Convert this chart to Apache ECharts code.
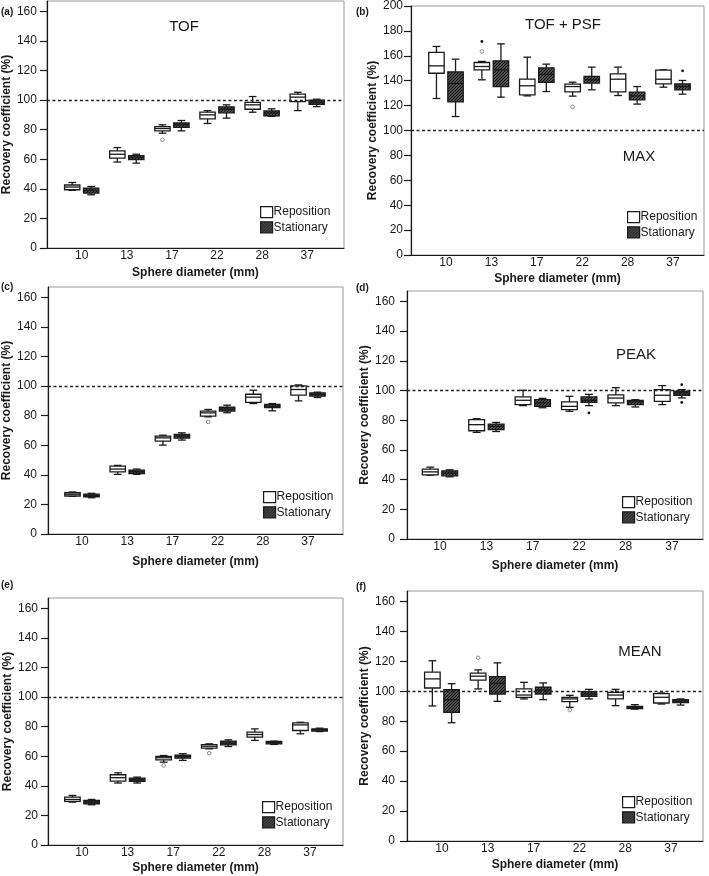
<!DOCTYPE html>
<html><head><meta charset="utf-8">
<script src="https://cdn.jsdelivr.net/npm/echarts@6/dist/echarts.min.js"></script>
<style>html,body{margin:0;padding:0;background:#fff}#chart{width:709px;height:876px}</style>
</head><body><div id="chart"></div>
<script>
// ---------- data ----------
const categories = ['10', '13', '17', '22', '28', '37'];
const yTicks = [0, 20, 40, 60, 80, 100, 120, 140, 160];
const yTicksB = [0, 20, 40, 60, 80, 100, 120, 140, 160, 180, 200];
const referenceLine = 100;

// each row: [min, Q1, median, Q3, max]
const tofRep = [[39.0,39.4,41.2,42.6,44.3],[58.1,60.8,63.4,65.7,67.9],[77.6,79.2,80.8,82.1,83.3],[84.2,87.3,90.0,91.8,92.9],[91.8,93.8,96.8,98.4,102.4],[92.9,99.0,102.0,104.0,105.3]];
const tofSta = [[36.0,37.1,38.9,40.5,41.6],[57.4,59.8,61.2,62.5,63.4],[79.2,81.5,83.3,84.6,86.2],[87.8,91.4,93.8,95.4,96.8],[89.0,89.4,91.2,92.7,94.1],[95.6,97.2,98.6,99.9,100.6]];
const tofRepOut = [[2, 73.2, 0]];
const tofStaOut = [];

const maxRep = [[125.7,146.0,151.9,162.7,167.5],[140.7,148.7,151.4,154.6,155.5],[127.8,128.6,135.9,141.2,158.9],[127.6,131.1,135.3,137.2,138.8],[128.1,131.1,141.2,145.5,150.9],[134.8,137.5,141.2,148.5,148.7]];
const maxSta = [[111.2,123.0,137.8,147.1,157.3],[126.8,135.3,148.7,156.0,169.6],[131.3,138.6,145.2,150.3,153.3],[132.7,138.0,140.7,143.4,150.9],[121.2,124.6,127.8,130.8,135.3],[129.2,132.7,135.3,137.5,140.2]];
const maxRepOut = [[1, 163.5, 0], [1, 171.5, 1], [3, 119.0, 0]];
const maxStaOut = [[5, 147.9, 1]];

const cRep = [[25.5,25.7,26.9,27.9,28.4],[40.3,42.0,43.9,45.9,46.4],[60.1,62.8,65.0,66.2,66.8],[79.2,79.7,81.9,83.1,84.2],[88.2,89.0,92.5,94.5,97.2],[90.0,93.9,97.7,100.2,100.8]];
const cSta = [[24.5,25.2,26.1,27.0,27.5],[40.3,40.9,42.1,43.2,43.9],[63.5,64.8,66.2,67.3,68.4],[82.0,83.1,84.4,85.7,87.1],[83.3,85.5,86.4,87.6,88.2],[92.3,93.2,94.5,95.4,95.9]];
const cRepOut = [[3, 75.8, 0]];
const cStaOut = [];

const peakRep = [[43.0,43.2,45.2,47.0,48.4],[71.8,72.9,77.0,80.4,81.0],[89.8,90.5,93.4,95.7,100.1],[86.0,87.1,89.3,92.3,96.1],[89.8,91.6,94.9,97.0,101.9],[90.5,92.7,96.8,100.6,103.3]];
const peakSta = [[41.9,42.5,44.3,45.9,46.6],[72.4,73.6,75.8,77.4,78.5],[88.4,89.3,91.6,93.8,94.7],[89.8,92.0,93.4,95.7,97.4],[88.9,90.5,92.3,93.4,93.8],[95.0,96.8,98.4,99.5,100.6]];
const peakRepOut = [];
const peakStaOut = [[3, 84.9, 1], [5, 103.9, 1], [5, 92.0, 1]];

const eRep = [[29.0,29.5,30.8,32.4,33.5],[41.9,43.2,45.5,47.5,48.8],[56.0,57.6,59.0,59.9,60.5],[65.0,65.5,66.8,67.9,68.4],[70.7,73.0,74.7,76.3,78.5],[75.2,77.4,81.2,82.6,83.0]];
const eSta = [[27.2,27.9,29.0,30.1,30.8],[41.9,43.0,44.1,45.2,45.9],[57.2,58.7,59.9,60.8,61.7],[66.6,67.7,68.9,70.2,71.1],[68.0,68.4,69.3,70.0,70.2],[76.7,77.0,77.9,78.5,79.0]];
const eRepOut = [[2, 53.8, 0], [3, 62.1, 0]];
const eStaOut = [];

const meanRep = [[90.2,102.2,108.3,112.8,120.4],[101.6,107.4,110.1,112.1,114.3],[94.9,96.0,97.5,101.6,106.0],[89.3,93.1,94.9,96.0,97.3],[90.4,94.9,97.5,99.3,101.3],[91.5,92.2,96.0,98.4,98.9]];
const meanSta = [[79.0,85.9,94.4,101.1,105.1],[93.3,98.2,105.4,109.8,119.0],[94.4,98.2,100.9,102.7,105.6],[94.9,96.6,98.2,99.8,101.3],[88.1,88.4,89.3,89.9,91.1],[90.8,92.4,93.5,94.4,94.9]];
const meanRepOut = [[1, 122.4, 0], [3, 87.5, 0]];
const meanStaOut = [];

const seriesNames = ['Reposition', 'Stationary'];
const xAxisTitle = 'Sphere diameter (mm)';
const yAxisTitle = 'Recovery coefficient (%)';

// ---------- layout ----------
const FONT = "'Liberation Sans', Arial, sans-serif";
const INK = '#1a1a1a';
const panels = [
  {label:'(a)', title:'TOF', sub:'', rep:tofRep, sta:tofSta, repOut:tofRepOut, staOut:tofStaOut,
   grid:{left:45, top:1, width:299, height:247}, yMax:167, ticks:yTicks, xMin:-0.771, xMax:5.815,
   yGap:29, xGap:19, lblMargin:10, legend:{left:260, top:206}, labelPos:[1,7], titlePos:[184,19], subPos:null},
  {label:'(b)', title:'TOF + PSF', sub:'MAX', rep:maxRep, sta:maxSta, repOut:maxRepOut, staOut:maxStaOut,
   grid:{left:411, top:6, width:293, height:249}, yMax:200, ticks:yTicksB, xMin:-0.771, xMax:5.683,
   yGap:31, xGap:18, lblMargin:8, legend:{left:627, top:211}, labelPos:[356,7], titlePos:[563,17], subPos:[639,149]},
  {label:'(c)', title:'', sub:'', rep:cRep, sta:cSta, repOut:cRepOut, staOut:cStaOut,
   grid:{left:48, top:287, width:295, height:247}, yMax:167, ticks:yTicks, xMin:-0.752, xMax:5.774,
   yGap:32, xGap:22, lblMargin:11, legend:{left:263, top:491}, labelPos:[1,282], titlePos:null, subPos:null},
  {label:'(d)', title:'', sub:'PEAK', rep:peakRep, sta:peakSta, repOut:peakRepOut, staOut:peakStaOut,
   grid:{left:407, top:291, width:296, height:248}, yMax:167, ticks:yTicks, xMin:-0.711, xMax:5.668,
   yGap:31, xGap:21, lblMargin:12, legend:{left:622, top:496}, labelPos:[356,283], titlePos:null, subPos:[636,347]},
  {label:'(e)', title:'', sub:'', rep:eRep, sta:eSta, repOut:eRepOut, staOut:eStaOut,
   grid:{left:48, top:598, width:295, height:247}, yMax:167, ticks:yTicks, xMin:-0.746, xMax:5.724,
   yGap:32, xGap:17, lblMargin:10, legend:{left:262, top:801}, labelPos:[1,580], titlePos:null, subPos:null},
  {label:'(f)', title:'', sub:'MEAN', rep:meanRep, sta:meanSta, repOut:meanRepOut, staOut:meanStaOut,
   grid:{left:407, top:591, width:296, height:250}, yMax:167, ticks:yTicks, xMin:-0.764, xMax:5.699,
   yGap:31, xGap:18, lblMargin:12, legend:{left:622, top:796}, labelPos:[356,582], titlePos:null, subPos:[640,644]}
];

const DODGE = 0.21, BOX_W = 0.34, CAP = 0.5;

function makeHatch() {
  const c = document.createElement('canvas');
  c.width = 3; c.height = 3;
  const g = c.getContext('2d');
  g.fillStyle = '#6e6e6e'; g.fillRect(0, 0, 3, 3);
  g.strokeStyle = '#0e0e0e'; g.lineWidth = 1.2;
  g.beginPath();
  g.moveTo(-1, 4); g.lineTo(4, -1);
  g.moveTo(-1, 1); g.lineTo(1, -1);
  g.moveTo(2, 4); g.lineTo(4, 2);
  g.stroke();
  return c;
}
const hatch = {image: makeHatch(), repeat: 'repeat'};

function boxRenderer(side, fill) {
  return function (params, api) {
    const xi = api.value(0);
    const unit = api.size([1, 0])[0];
    const cx = api.coord([xi, 0])[0] + side * DODGE * unit;
    const hw = BOX_W * unit / 2, cw = hw * CAP;
    const py = k => api.coord([xi, api.value(k)])[1];
    const yMin = py(1), yQ1 = py(2), yMed = py(3), yQ3 = py(4), yMax = py(5);
    const st = {stroke: INK, lineWidth: 1.3};
    return {type: 'group', children: [
      {type: 'line', shape: {x1: cx, y1: yMax, x2: cx, y2: yQ3}, style: st},
      {type: 'line', shape: {x1: cx, y1: yQ1, x2: cx, y2: yMin}, style: st},
      {type: 'line', shape: {x1: cx - cw, y1: yMax, x2: cx + cw, y2: yMax}, style: st},
      {type: 'line', shape: {x1: cx - cw, y1: yMin, x2: cx + cw, y2: yMin}, style: st},
      {type: 'rect', shape: {x: cx - hw, y: yQ3, width: 2 * hw, height: yQ1 - yQ3}, style: {fill: fill, stroke: INK, lineWidth: 1.3}},
      {type: 'line', shape: {x1: cx - hw, y1: yMed, x2: cx + hw, y2: yMed}, style: st}
    ]};
  };
}
function outRenderer(side) {
  return function (params, api) {
    const xi = api.value(0);
    const unit = api.size([1, 0])[0];
    const p = api.coord([xi, api.value(1)]);
    const cx = p[0] + side * DODGE * unit;
    return api.value(2) === 0
      ? {type: 'circle', shape: {cx: cx, cy: p[1], r: 1.8}, style: {fill: '#fff', stroke: '#8a8a8a', lineWidth: 1}}
      : {type: 'circle', shape: {cx: cx, cy: p[1], r: 1.4}, style: {fill: '#111'}};
  };
}

const grids = [], xAxes = [], yAxes = [], series = [], legends = [], graphics = [];
panels.forEach((p, i) => {
  grids.push(Object.assign({show: true, borderColor: '#9a9a9a', borderWidth: 1}, p.grid));
  xAxes.push({
    gridIndex: i, type: 'value', min: p.xMin, max: p.xMax,
    axisLine: {show: true, onZero: false, lineStyle: {color: INK, width: 1.2}},
    axisTick: {show: false}, splitLine: {show: false},
    axisLabel: {customValues: categories.map((c, k) => k), formatter: v => categories[Math.round(v)],
      fontSize: 12, color: INK, margin: 2, fontFamily: FONT},
    name: xAxisTitle, nameLocation: 'middle', nameGap: p.xGap,
    nameTextStyle: {fontWeight: 'bold', fontSize: 12, color: INK, fontFamily: FONT}
  });
  yAxes.push({
    gridIndex: i, type: 'value', min: 0, max: p.yMax, interval: 20,
    axisLine: {show: true, onZero: false, lineStyle: {color: INK, width: 1.2}},
    axisTick: {show: true, length: 7, customValues: p.ticks, lineStyle: {color: INK, width: 1.2}},
    splitLine: {show: false},
    axisLabel: {customValues: p.ticks, fontSize: 12, color: INK, margin: p.lblMargin, fontFamily: FONT},
    name: yAxisTitle, nameLocation: 'middle', nameGap: p.yGap,
    nameTextStyle: {fontWeight: 'bold', fontSize: 12, color: INK, fontFamily: FONT}
  });
  series.push({
    type: 'custom', name: seriesNames[0], xAxisIndex: i, yAxisIndex: i,
    itemStyle: {color: '#fff'},
    renderItem: boxRenderer(-1, '#fff'),
    encode: {x: 0, y: [1, 2, 3, 4, 5]},
    data: p.rep.map((v, k) => [k].concat(v)),
    markLine: {silent: true, symbol: 'none', label: {show: false},
      lineStyle: {color: '#222', type: [3, 2.5], width: 1.4},
      data: [{yAxis: referenceLine}]}
  });
  series.push({
    type: 'custom', name: seriesNames[1], xAxisIndex: i, yAxisIndex: i,
    itemStyle: {color: '#444'},
    renderItem: boxRenderer(1, hatch),
    encode: {x: 0, y: [1, 2, 3, 4, 5]},
    data: p.sta.map((v, k) => [k].concat(v))
  });
  if (p.repOut.length) series.push({type: 'custom', xAxisIndex: i, yAxisIndex: i, renderItem: outRenderer(-1), encode: {x: 0, y: 1}, data: p.repOut});
  if (p.staOut.length) series.push({type: 'custom', xAxisIndex: i, yAxisIndex: i, renderItem: outRenderer(1), encode: {x: 0, y: 1}, data: p.staOut});
  legends.push({
    left: p.legend.left, top: p.legend.top, orient: 'vertical', padding: 0,
    itemWidth: 12, itemHeight: 11, itemGap: 3, icon: 'rect', selectedMode: false,
    textStyle: {fontSize: 12, color: INK, fontFamily: FONT, padding: [0, 0, 0, -4]},
    data: [
      {name: seriesNames[0], itemStyle: {color: '#fff', borderColor: INK, borderWidth: 1.2}},
      {name: seriesNames[1], itemStyle: {color: hatch, borderColor: INK, borderWidth: 1.2}}
    ]
  });
  graphics.push({type: 'text', x: p.labelPos[0], y: p.labelPos[1],
    style: {text: p.label, fontSize: 10, fontWeight: 'bold', fontFamily: FONT, fill: INK}});
  if (p.titlePos) graphics.push({type: 'text', x: p.titlePos[0], y: p.titlePos[1],
    style: {text: p.title, fontSize: 15, fontFamily: FONT, fill: INK, align: 'center', verticalAlign: 'top'}});
  if (p.subPos) graphics.push({type: 'text', x: p.subPos[0], y: p.subPos[1],
    style: {text: p.sub, fontSize: 15, fontFamily: FONT, fill: INK, align: 'center', verticalAlign: 'top'}});
});

const chart = echarts.init(document.getElementById('chart'), null, {renderer: 'canvas'});
chart.setOption({
  backgroundColor: '#fff',
  animation: false,
  textStyle: {fontFamily: FONT},
  grid: grids, xAxis: xAxes, yAxis: yAxes, series: series, legend: legends, graphic: graphics
});
</script></body></html>
